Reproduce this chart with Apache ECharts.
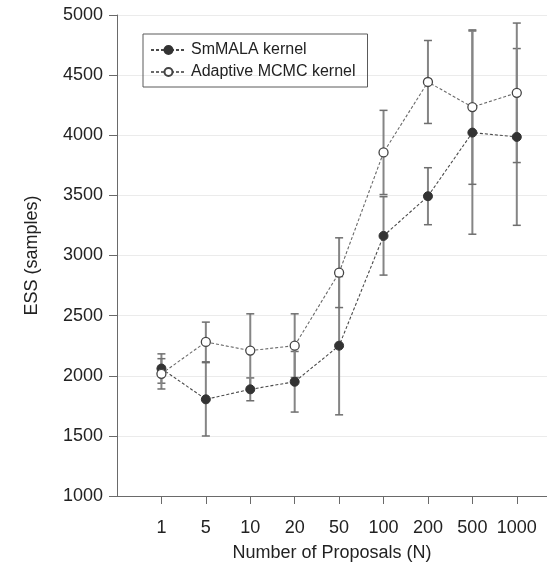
<!DOCTYPE html>
<html>
<head>
<meta charset="utf-8">
<script src="https://cdn.jsdelivr.net/npm/echarts@6/dist/echarts.min.js"></script>
<style>
  html, body { margin: 0; padding: 0; background: #fff; overflow: hidden; }
  #chart { width: 547px; height: 567px; }
</style>
</head>
<body>
<div id="chart"></div>
<script>
// Number of proposals per iteration (categorical positions 1..9)
var proposals = ['1', '5', '10', '20', '50', '100', '200', '500', '1000'];

// Effective sample size, mean and error half-width
var smmalaESS = [2060, 1804, 1887, 1950, 2250, 3163, 3493, 4022, 3986];
var smmalaErr = [122, 305, 95, 252, 575, 326, 237, 845, 735];
var adaptiveESS = [2016, 2281, 2209, 2250, 2857, 3857, 4443, 4234, 4353];
var adaptiveErr = [126, 165, 306, 265, 290, 350, 345, 642, 580];

var yTicks = [1000, 1500, 2000, 2500, 3000, 3500, 4000, 4500, 5000];

var FONT = '"Liberation Sans", Arial, Helvetica, sans-serif';

function pairs(values) {
  return values.map(function (v, i) { return [i + 1, v]; });
}
function errRows(values, errs) {
  return values.map(function (v, i) { return [i + 1, v - errs[i], v + errs[i]]; });
}

// Vertical error bar with short caps
function renderErrorBar(params, api) {
  var x = api.value(0);
  var lo = api.coord([x, api.value(1)]);
  var hi = api.coord([x, api.value(2)]);
  var half = 4;
  var stroke = { stroke: '#858585', lineWidth: 2 };
  var capStroke = { stroke: '#6e6e6e', lineWidth: 1.5 };
  return {
    type: 'group',
    children: [
      { type: 'line', shape: { x1: hi[0], y1: hi[1], x2: lo[0], y2: lo[1] }, style: stroke },
      { type: 'line', shape: { x1: hi[0] - half, y1: hi[1], x2: hi[0] + half, y2: hi[1] }, style: capStroke },
      { type: 'line', shape: { x1: lo[0] - half, y1: lo[1], x2: lo[0] + half, y2: lo[1] }, style: capStroke }
    ]
  };
}

var chart = echarts.init(document.getElementById('chart'), null, { renderer: 'canvas', width: 547, height: 567 });

chart.setOption({
  animation: false,
  backgroundColor: '#ffffff',
  grid: { left: 117, width: 430, top: 15, height: 484, containLabel: false },
  legend: {
    orient: 'vertical',
    left: 143,
    top: 34,
    padding: [8, 12, 7, 7],
    borderColor: '#5a5a5a',
    borderWidth: 1,
    itemWidth: 35,
    itemHeight: 10,
    itemGap: 6,
    textStyle: { fontFamily: FONT, fontSize: 16, color: '#222', lineHeight: 16 },
    data: ['SmMALA kernel', 'Adaptive MCMC kernel']
  },
  xAxis: {
    type: 'value',
    min: 0,
    max: 9.68,
    name: 'Number of Proposals (N)',
    nameLocation: 'middle',
    nameGap: 48,
    nameTextStyle: { fontFamily: FONT, fontSize: 18, color: '#222' },
    axisLine: { show: true, lineStyle: { color: '#6a6a6a', width: 1 } },
    axisTick: { show: true, length: 8, lineStyle: { color: '#6a6a6a' }, customValues: [1, 2, 3, 4, 5, 6, 7, 8, 9] },
    axisLabel: {
      margin: 23,
      fontFamily: FONT, fontSize: 18, color: '#222',
      customValues: [1, 2, 3, 4, 5, 6, 7, 8, 9],
      formatter: function (v) { return proposals[Math.round(v) - 1] || ''; }
    },
    splitLine: { show: false }
  },
  yAxis: {
    type: 'value',
    min: yTicks[0],
    max: yTicks[yTicks.length - 1],
    interval: 500,
    name: 'ESS (samples)',
    nameLocation: 'middle',
    nameGap: 76,
    nameTextStyle: { fontFamily: FONT, fontSize: 18, color: '#222' },
    axisLine: { show: true, lineStyle: { color: '#6a6a6a', width: 1 } },
    axisTick: { show: true, length: 8, lineStyle: { color: '#6a6a6a' } },
    axisLabel: {
      margin: 14, fontFamily: FONT, fontSize: 18, color: '#222',
      formatter: function (v) { return String(v); }
    },
    splitLine: { show: true, lineStyle: { color: '#ebebeb', width: 1 } }
  },
  series: [
    {
      type: 'custom',
      name: 'smmala-err',
      renderItem: renderErrorBar,
      data: errRows(smmalaESS, smmalaErr),
      encode: { x: 0, y: [1, 2] },
      z: 1,
      silent: true
    },
    {
      type: 'custom',
      name: 'adaptive-err',
      renderItem: renderErrorBar,
      data: errRows(adaptiveESS, adaptiveErr),
      encode: { x: 0, y: [1, 2] },
      z: 1,
      silent: true
    },
    {
      type: 'line',
      name: 'SmMALA kernel',
      data: pairs(smmalaESS),
      symbol: 'circle',
      symbolSize: 9,
      lineStyle: { color: '#4a4a4a', width: 1.1, type: [3, 2] },
      itemStyle: { color: '#333333', borderColor: '#333333', borderWidth: 1 },
      z: 3
    },
    {
      type: 'line',
      name: 'Adaptive MCMC kernel',
      data: pairs(adaptiveESS),
      symbol: 'circle',
      symbolSize: 9,
      lineStyle: { color: '#6a6a6a', width: 1.1, type: [3, 2] },
      itemStyle: { color: '#ffffff', borderColor: '#444444', borderWidth: 1.3 },
      z: 4
    }
  ]
});
</script>
</body>
</html>
